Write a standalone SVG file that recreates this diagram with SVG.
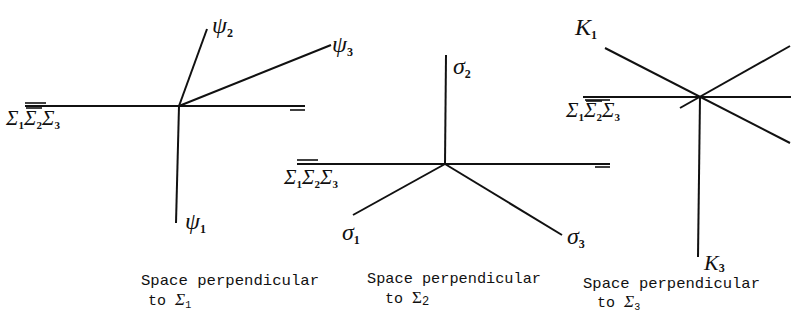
<svg xmlns="http://www.w3.org/2000/svg" width="791" height="323" viewBox="0 0 791 323">
<style>
.ax{stroke:#111;stroke-width:2;fill:none;stroke-linecap:butt}
.thin{stroke:#111;stroke-width:1.6;fill:none}
.lbl{font-family:"Liberation Serif","DejaVu Serif",serif;font-style:italic;fill:#111}
.big{font-size:24px}
.sub{font-size:12px;font-style:normal;font-weight:bold}
.sig{font-size:21px}
.ssub{font-size:11px;font-style:normal;font-weight:bold}
.cap{font-family:"Liberation Mono","DejaVu Sans Mono",monospace;font-size:15px;fill:#111}
</style>
<rect width="791" height="323" fill="#fff"/>
<g id="connectors">
  <!-- diagram 1 -->
  <line class="ax" x1="25" y1="106" x2="305" y2="106"/>
  <line class="thin" x1="25" y1="103" x2="46" y2="103"/>
  <line class="thin" x1="290" y1="110" x2="305" y2="110"/>
  <line class="ax" x1="179" y1="106" x2="207" y2="29"/>
  <line class="ax" x1="179" y1="106" x2="331" y2="45"/>
  <line class="ax" x1="179" y1="106" x2="176" y2="223"/>
  <!-- diagram 2 -->
  <line class="ax" x1="297" y1="164" x2="610" y2="164"/>
  <line class="thin" x1="297" y1="160" x2="318" y2="160"/>
  <line class="thin" x1="595" y1="167" x2="610" y2="167"/>
  <line class="ax" x1="446" y1="55" x2="445" y2="164"/>
  <line class="ax" x1="445" y1="164" x2="353" y2="215"/>
  <line class="ax" x1="445" y1="164" x2="562" y2="235"/>
  <!-- diagram 3 -->
  <line class="ax" x1="583" y1="97" x2="791" y2="97"/>
  <line class="thin" x1="585" y1="100" x2="610" y2="100"/>
  <line class="ax" x1="605" y1="48" x2="790" y2="143"/>
  <line class="ax" x1="680" y1="108" x2="790" y2="46"/>
  <line class="ax" x1="700" y1="97" x2="698" y2="257"/>
</g>
<g id="node-diagram1">
  <g id="psi2"><text class="lbl big" x="212" y="33">ψ<tspan class="sub" dy="4">2</tspan></text></g>
  <g id="psi3"><text class="lbl big" x="332" y="52">ψ<tspan class="sub" dy="4">3</tspan></text></g>
  <g id="psi1"><text class="lbl big" x="185" y="229">ψ<tspan class="sub" dy="4">1</tspan></text></g>
  <g id="sigma-label-1">
    <text class="lbl sig" x="6" y="125">Σ<tspan class="ssub" dy="4">1</tspan><tspan dy="-4">Σ</tspan><tspan class="ssub" dy="4">2</tspan><tspan dy="-4">Σ</tspan><tspan class="ssub" dy="4">3</tspan></text>
    <line class="thin" x1="26" y1="108" x2="42" y2="108"/>
  </g>
  <g id="caption-1">
    <text class="cap" x="141" y="285" textLength="178" lengthAdjust="spacingAndGlyphs">Space perpendicular</text>
    <text class="cap" x="148" y="305">to <tspan font-family="Liberation Serif,serif" font-style="italic" font-size="17">Σ</tspan><tspan font-size="10" dy="3">1</tspan></text>
  </g>
</g>
<g id="node-diagram2">
  <g id="sig2"><text class="lbl big" x="453" y="74">σ<tspan class="sub" dy="4">2</tspan></text></g>
  <g id="sig1"><text class="lbl big" x="342" y="240">σ<tspan class="sub" dy="4">1</tspan></text></g>
  <g id="sig3"><text class="lbl big" x="567" y="244">σ<tspan class="sub" dy="4">3</tspan></text></g>
  <g id="sigma-label-2">
    <text class="lbl sig" x="284" y="184">Σ<tspan class="ssub" dy="4">1</tspan><tspan dy="-4">Σ</tspan><tspan class="ssub" dy="4">2</tspan><tspan dy="-4">Σ</tspan><tspan class="ssub" dy="4">3</tspan></text>
  </g>
  <g id="caption-2">
    <text class="cap" x="367" y="283" textLength="174" lengthAdjust="spacingAndGlyphs">Space perpendicular</text>
    <text class="cap" x="385" y="303">to  <tspan font-family="Liberation Serif,serif" font-size="17">Σ</tspan><tspan font-size="12" dy="2">2</tspan></text>
  </g>
</g>
<g id="node-diagram3">
  <g id="k1"><text class="lbl big" x="575" y="35" font-style="normal">K<tspan class="sub" dy="4">1</tspan></text></g>
  <g id="k3"><text class="lbl" font-size="22" x="704" y="270" font-style="normal">K<tspan class="sub" dy="2">3</tspan></text></g>
  <g id="sigma-label-3">
    <text class="lbl sig" x="566" y="117">Σ<tspan class="ssub" dy="4">1</tspan><tspan dy="-4">Σ</tspan><tspan class="ssub" dy="4">2</tspan><tspan dy="-4">Σ</tspan><tspan class="ssub" dy="4">3</tspan></text>
    <line class="thin" x1="586" y1="101" x2="602" y2="101"/>
  </g>
  <g id="caption-3">
    <text class="cap" x="583" y="288" textLength="177" lengthAdjust="spacingAndGlyphs">Space perpendicular</text>
    <text class="cap" x="597" y="307">to <tspan font-family="Liberation Serif,serif" font-style="italic" font-size="17">Σ</tspan><tspan font-size="10" dy="3">3</tspan></text>
  </g>
</g>
</svg>
